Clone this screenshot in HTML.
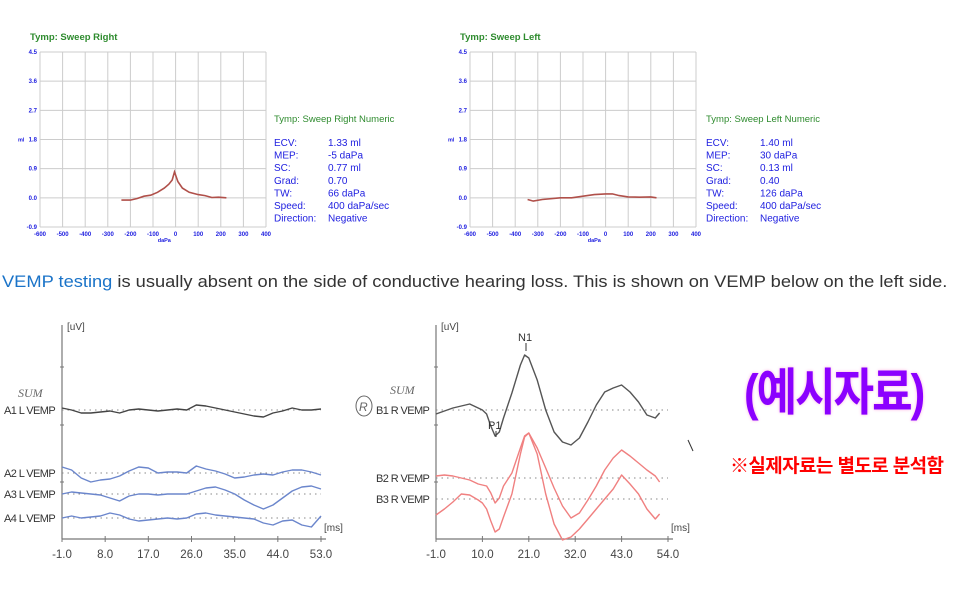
<!DOCTYPE html>
<html><head><meta charset="utf-8">
<style>
html,body{margin:0;padding:0;background:#fff;width:966px;height:596px;overflow:hidden;font-family:"Liberation Sans",sans-serif;}
#root{position:relative;width:966px;height:596px;}
svg{position:absolute;left:0;top:0;}
.para{position:absolute;left:2px;top:273px;font-size:16.3px;color:#333;white-space:nowrap;transform:scaleX(1.122);transform-origin:0 0;}
.para a{color:#1a73c8;text-decoration:none;}
.big{position:absolute;left:744px;top:356px;font:bold 44px "Liberation Sans","Noto Sans CJK KR",sans-serif;color:#8b00ff;text-shadow:0 0 3px #ffb0e0;letter-spacing:-2px;transform:scaleY(1.15);}
.note{position:absolute;left:730px;top:451px;font:bold 19px "Liberation Sans","Noto Sans CJK KR",sans-serif;color:#ff0000;white-space:nowrap;letter-spacing:-0.6px;}
</style></head>
<body>
<div id="root">
<svg id="chart" width="966" height="596"></svg>
<div class="para"><a href="#">VEMP testing</a> is usually absent on the side of conductive hearing loss. This is shown on VEMP below on the left side.</div>
<div class="big">(예시자료)</div>
<div class="note">※실제자료는 별도로 분석함</div>
</div>
<script>
// ---- Tympanogram data ----
const tympXTicks = [-600,-500,-400,-300,-200,-100,0,100,200,300,400];
const tympYTicks = [-0.9,0.0,0.9,1.8,2.7,3.6,4.5];
const tympRightP = [-240,-200,-170,-140,-110,-80,-50,-30,-15,-5,10,30,60,100,130,160,190,225];
const tympRightV = [-0.07,-0.07,-0.02,0.05,0.08,0.17,0.3,0.42,0.55,0.8,0.5,0.3,0.17,0.1,0.07,0.01,0.02,0.0];
const tympLeftP = [-345,-320,-280,-200,-150,-100,-50,0,30,60,100,150,200,225];
const tympLeftV = [-0.05,-0.1,-0.05,0.0,0.0,0.05,0.1,0.12,0.12,0.07,0.03,0.02,0.03,0.0];
const numLabels = ["ECV:","MEP:","SC:","Grad:","TW:","Speed:","Direction:"];
const numRightVals = ["1.33 ml","-5 daPa","0.77 ml","0.70","66 daPa","400 daPa/sec","Negative"];
const numLeftVals = ["1.40 ml","30 daPa","0.13 ml","0.40","126 daPa","400 daPa/sec","Negative"];
// ---- VEMP data (ms, amplitude) ----
const vempLTicks = [-1,8,17,26,35,44,53];
const vempRTicks = [-1,10,21,32,43,54];
const vempLTime = [-1,1,3,5,7,9,11,13,15,17,19,21,23,25,27,29,31,33,35,37,39,41,43,45,47,49,51,53];
const a1 = [2,0,-3,-3,-2,-1,-3,0,1,0,-1,0,1,0,5,4,2,0,-2,-4,-6,-7,-3,-1,2,0,0,1];
const a2 = [6,3,-5,-9,-7,-6,-3,2,6,5,0,1,1,0,7,4,2,-1,-5,-4,-2,-1,-2,1,3,3,1,-2];
const a3 = [0,2,1,0,-1,-4,-7,-2,0,0,-1,0,0,0,3,6,7,4,0,-6,-11,-15,-11,-4,3,7,8,5];
const a4 = [0,2,0,1,2,5,3,-1,-3,-2,-1,0,-1,0,4,5,3,2,1,0,-1,-5,-7,-3,-2,-7,-9,2];
const vempRTime = [-1,1,3,5,7,9,10,11,12,13,14,15,17,19,20,21,23,25,27,29,31,33,35,37,39,41,43,45,47,49,51,52];
const b1 = [-4,-1,2,4,6,2,0,-4,-16,-26,-22,-8,17,45,55,52,30,0,-22,-32,-35,-28,-12,5,18,22,25,18,8,-5,-8,-3];
const b2 = [2,3,2,0,-2,-6,-7,-8,-15,-25,-20,-8,5,30,42,45,30,10,-10,-28,-40,-35,-22,-8,8,20,28,22,15,8,2,-4];
const b3 = [-16,-10,-3,5,4,-1,-4,-10,-22,-33,-30,-18,5,45,62,66,45,5,-25,-41,-38,-30,-20,-10,0,10,24,15,5,-10,-20,-15];

const NS="http://www.w3.org/2000/svg";
const svg=document.getElementById('chart');
function mk(tag,attrs,parent){const e=document.createElementNS(NS,tag);for(const k in attrs)e.setAttribute(k,attrs[k]);(parent||svg).appendChild(e);return e;}
function txt(x,y,s,attrs){const e=mk('text',Object.assign({x:x,y:y},attrs));e.textContent=s;return e;}

function tymp(ox,title,numTitle,P,V,vals,nx){
  const L=ox,R=ox+226,T=52,B=227;
  const xs=p=>L+(p+600)/1000*(R-L);
  const ys=v=>B-(v+0.9)/5.4*(B-T);
  const t=txt(L-10,40,'Tymp: '+title,{fill:'#2e8b2e','font-size':9.5,'font-weight':'bold'});
  
  
  tympXTicks.forEach(p=>{
    const l=mk('line',{x1:xs(p),x2:xs(p),y1:T,y2:B,stroke:'#ccc','stroke-width':1});
    
    
    const tl=txt(xs(p),236,String(p),{fill:'#2020e0','font-size':6,'font-weight':'bold','text-anchor':'middle'});
    
    
  });
  tympYTicks.forEach(v=>{
    const l=mk('line',{x1:L,x2:R,y1:ys(v),y2:ys(v),stroke:'#ccc','stroke-width':1});
    
    
    const tl=txt(L-3,ys(v)+2,v.toFixed(1),{fill:'#2020e0','font-size':6,'font-weight':'bold','text-anchor':'end'});
    
    
  });
  const xl=txt((xs(-100)+xs(0))/2,242,'daPa',{fill:'#2020e0','font-size':5.5,'font-weight':'bold','text-anchor':'middle'});
  
  
  const yl=txt(L-22,ys(1.8)+2,'ml',{fill:'#2020e0','font-size':5.5,'font-weight':'bold'});
  
  
  const d=P.map((p,i)=>(i?'L':'M')+xs(p).toFixed(1)+','+ys(V[i]).toFixed(1)).join('');
  const c=mk('path',{d:d,fill:'none',stroke:'#b0504a','stroke-width':1.6});
  
  
  const nt=txt(nx,122,numTitle,{fill:'#2e8b2e','font-size':9.5});
  
  
  numLabels.forEach((s,i)=>{
    const a=txt(nx,146+i*12.6,s,{fill:'#2020e0','font-size':10});
    
    
    const b=txt(nx+54,146+i*12.6,vals[i],{fill:'#2020e0','font-size':10});
    
    
  });
}
tymp(40,'Sweep Right','Tymp: Sweep Right Numeric',tympRightP,tympRightV,numRightVals,274);
tymp(470,'Sweep Left','Tymp: Sweep Left Numeric',tympLeftP,tympLeftV,numLeftVals,706);

function vemp(ax,xr,t0,t1,ticks,series,colors,bases,labels,lblX){
  const T=325,B=539;
  const xs=t=>ax+(t-t0)/(t1-t0)*(xr-ax);
  mk('line',{x1:ax,x2:ax,y1:T,y2:B,stroke:'#777','stroke-width':1.2});
  mk('line',{x1:ax,x2:xr+5,y1:B,y2:B,stroke:'#777','stroke-width':1.2});
  [367,425,482].forEach(y=>mk('line',{x1:ax-2,x2:ax+2,y1:y,y2:y,stroke:'#777'}));
  const u=txt(ax+5,330,'[uV]',{fill:'#444','font-size':10});
  
  
  const m=txt(xr+3,531,'[ms]',{fill:'#444','font-size':10});
  
  
  ticks.forEach(t=>{
    mk('line',{x1:xs(t),x2:xs(t),y1:B-3,y2:B+3,stroke:'#777'});
    const l=txt(xs(t),558,t.toFixed(1),{fill:'#444','font-size':11.5,'text-anchor':'middle'});
    
    
  });
  series.forEach((s,k)=>{
    const base=bases[k];
    mk('line',{x1:ax,x2:xr,y1:base,y2:base,stroke:'#888','stroke-dasharray':'1.5,4','stroke-width':1});
    const lb=txt(lblX,base+4,labels[k],{fill:'#333','font-size':11,'letter-spacing':'-0.6'});
    
    
    const d=s.time.map((t,i)=>(i?'L':'M')+xs(t).toFixed(1)+','+(base-s.v[i]).toFixed(1)).join('');
    const p=mk('path',{d:d,fill:'none',stroke:colors[k],'stroke-width':1.4,'stroke-linejoin':'round'});
    
    
  });
  return xs;
}
vemp(62,321,-1,53,vempLTicks,
  [{time:vempLTime,v:a1},{time:vempLTime,v:a2},{time:vempLTime,v:a3},{time:vempLTime,v:a4}],
  ['#444','#6b86cc','#6b86cc','#6b86cc'],[410,473,494,518],
  ['A1 L VEMP','A2 L VEMP','A3 L VEMP','A4 L VEMP'],4);
vemp(436,668,-1,54,vempRTicks,
  [{time:vempRTime,v:b1},{time:vempRTime,v:b2},{time:vempRTime,v:b3}],
  ['#555','#f08080','#f08080'],[410,478,499],
  ['B1 R VEMP','B2 R VEMP','B3 R VEMP'],376);
const n1=txt(518,341,'N1',{fill:'#333','font-size':11});


mk('line',{x1:526,x2:526,y1:343,y2:351,stroke:'#333'});
const p1=txt(488,429,'P1',{fill:'#333','font-size':11});


mk('line',{x1:496,x2:496,y1:431,y2:437,stroke:'#333'});
const s1=txt(18,397,'SUM',{fill:'#666','font-size':12,'font-style':'italic','font-family':'Liberation Serif'});


const s2=txt(390,394,'SUM',{fill:'#666','font-size':12,'font-style':'italic','font-family':'Liberation Serif'});


mk('ellipse',{cx:364,cy:406,rx:8,ry:10,fill:'none',stroke:'#666','stroke-width':1});
const r=txt(359,411,'R',{fill:'#666','font-size':12,'font-style':'italic'});


mk('line',{x1:688,x2:693,y1:440,y2:451,stroke:'#333','stroke-width':1});
</script>
</body></html>
